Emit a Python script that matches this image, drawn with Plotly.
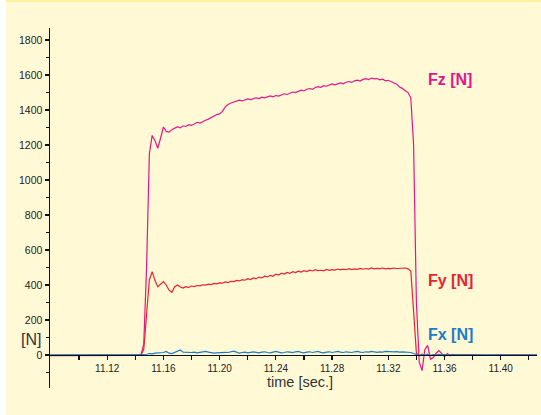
import plotly.graph_objects as go

# ---------------- data ----------------
time_pre = [11.078, 11.090, 11.100, 11.110, 11.120, 11.130]
time_grid = [
    11.140, 11.142, 11.144, 11.146, 11.148, 11.150, 11.152, 11.154, 11.156, 11.158,
    11.160, 11.162, 11.164, 11.166, 11.168, 11.170, 11.172, 11.174, 11.176, 11.178,
    11.180, 11.182, 11.184, 11.186, 11.188, 11.190, 11.192, 11.194, 11.196, 11.198,
    11.200, 11.202, 11.204, 11.206, 11.208, 11.210, 11.212, 11.214, 11.216, 11.218,
    11.220, 11.222, 11.224, 11.226, 11.228, 11.230, 11.232, 11.234, 11.236, 11.238,
    11.240, 11.242, 11.244, 11.246, 11.248, 11.250, 11.252, 11.254, 11.256, 11.258,
    11.260, 11.262, 11.264, 11.266, 11.268, 11.270, 11.272, 11.274, 11.276, 11.278,
    11.280, 11.282, 11.284, 11.286, 11.288, 11.290, 11.292, 11.294, 11.296, 11.298,
    11.300, 11.302, 11.304, 11.306, 11.308, 11.310, 11.312, 11.314, 11.316, 11.318,
    11.320, 11.322, 11.324, 11.326, 11.328, 11.330, 11.332, 11.334, 11.336, 11.338,
    11.340, 11.342, 11.344, 11.346, 11.348, 11.350, 11.352, 11.354, 11.356, 11.358,
    11.360, 11.362, 11.364, 11.366, 11.368, 11.370,
]
time_post = [11.380, 11.390, 11.400, 11.410, 11.426]
time_s = time_pre + time_grid + time_post

fz = [
    -3, -2, -4, -2, -3, -2,
    0, -1, 0, 60, 500, 1150, 1255, 1225, 1182, 1240,
    1303, 1278, 1274, 1288, 1296, 1305, 1298, 1310, 1306, 1316,
    1312, 1322, 1330, 1326, 1336, 1342, 1348, 1358, 1368, 1374,
    1378, 1392, 1418, 1432, 1440, 1446, 1452, 1456, 1452, 1460,
    1464, 1460, 1467, 1470, 1466, 1474, 1470, 1477, 1481, 1476,
    1483, 1480, 1487, 1493, 1489, 1497, 1503, 1500, 1509, 1514,
    1509, 1519, 1523, 1518, 1529, 1534, 1530, 1539, 1536, 1544,
    1549, 1544, 1551, 1555, 1550, 1559, 1563, 1558, 1567, 1571,
    1566, 1575, 1579, 1574, 1583, 1578, 1580, 1573, 1576, 1567,
    1570, 1562, 1556, 1548, 1532, 1524, 1510, 1500, 1470, 1200,
    300, -40, -90, 30, 55, -25, -15, 10, 25, 8,
    -10, 8, -5, 3, 0, -2,
    2, -3, 0, -2, -1,
]
fy = [
    -4, -3, -5, -3, -4, -3,
    -2, -3, 0, 30, 250, 430, 476, 425, 390, 405,
    419, 400, 370, 358, 390, 400, 388, 382, 390, 386,
    394, 391, 397, 395, 401, 399, 405, 402, 409, 406,
    412, 410, 417, 414, 421, 419, 426, 423, 430, 427,
    436, 431, 440, 436, 445, 440, 450, 446, 455, 450,
    462, 457, 468, 462, 472, 466, 476, 471, 479, 474,
    482, 477, 485, 480, 487, 482, 484, 481, 489, 484,
    488, 485, 491, 486, 490, 487, 493, 488, 492, 489,
    495, 490, 494, 491, 497, 492, 495, 493, 497, 492,
    495, 493, 497, 494, 496, 495, 497, 492, 480, 250,
    10, -5, 4, -3, 2, -2, 1, 0, -2, 1,
    0, -1, 1, 0, -1, 0,
    -2, -3, -2, -3, -2,
]
fx = [
    0, 1, 0, 1, 0, 1,
    0, 1, 0, 2, 4, 8, 6, 10, 12, 10,
    14, 20, 10, 8, 14, 22, 28, 16, 14, 12,
    14, 16, 12, 15, 18, 20, 16, 12, 10, 12,
    14, 13, 15, 14, 18, 22, 16, 10, 14, 16,
    12, 14, 18, 15, 12, 16, 18, 14, 12, 16,
    20, 16, 12, 14, 18, 16, 13, 18, 20, 15,
    12, 16, 18, 14, 16, 20, 15, 12, 16, 18,
    14, 17, 20, 16, 14, 18, 16, 14, 18, 20,
    16, 14, 18, 16, 20, 17, 15, 18, 16, 20,
    18, 15, 17, 19, 16, 18, 17, 16, 14, 8,
    2, -4, 3, -2, 4, -3, 2, -2, 3, 0,
    2, -1, 1, 0, 1, 0,
    1, 0, 1, 0, 1,
]

series_names = ["Fz [N]", "Fy [N]", "Fx [N]"]
y_ticks = [0, 200, 400, 600, 800, 1000, 1200, 1400, 1600, 1800]
x_ticks = [11.10, 11.12, 11.14, 11.16, 11.18, 11.20, 11.22, 11.24,
           11.26, 11.28, 11.30, 11.32, 11.34, 11.36, 11.38, 11.40, 11.42]
x_tick_labels = ["", "11.12", "", "11.16", "", "11.20", "", "11.24",
                 "", "11.28", "", "11.32", "", "11.36", "", "11.40", ""]
x_title = "time [sec.]"
y_title = "[N]"

# ---------------- style ----------------
W, H = 541, 415
ML, MR, MT, MB = 50, 4, 28, 27
PW, PH = W - ML - MR, H - MT - MB
YR = [-189, 1869]
XR = [11.0793, 11.4258]
C_FZ, C_FY, C_FX = "#E2168A", "#EA2230", "#1C7CC4"
BG = "#FFF9D6"
FONT = "Liberation Sans, Arial, Helvetica, sans-serif"


def px(x):
    return (x - ML) / PW


def py(y):
    return (H - MB - y) / PH


fig = go.Figure()
for name, vals, col in [(series_names[0], fz, C_FZ), (series_names[1], fy, C_FY),
                        (series_names[2], fx, C_FX)]:
    fig.add_trace(go.Scatter(x=time_s, y=vals, mode="lines", name=name,
                             line=dict(color=col, width=1.2), showlegend=False,
                             hoverinfo="skip"))

fig.update_layout(
    width=W, height=H, autosize=False,
    margin=dict(l=ML, r=MR, t=MT, b=MB, pad=0, autoexpand=False),
    paper_bgcolor=BG, plot_bgcolor=BG,
    font=dict(family=FONT, size=11, color="#222222"),
    showlegend=False,
)
fig.update_yaxes(
    range=YR, tickmode="array", tickvals=y_ticks, ticks="outside", ticklen=4,
    tickwidth=1.2, tickcolor="#111", showline=True, linecolor="#111", linewidth=1.5,
    showgrid=False, zeroline=False, automargin=False,
    tickfont=dict(size=10.5, color="#222"),
    minor=dict(dtick=100, tick0=0, ticks="outside", ticklen=3, tickcolor="#111",
               tickwidth=1.2, showgrid=False),
)
fig.update_xaxes(
    range=XR, anchor="free", position=(0 - YR[0]) / (YR[1] - YR[0]),
    tickmode="array", tickvals=x_ticks, ticktext=x_tick_labels,
    ticks="outside", ticklen=4, tickwidth=1.2, tickcolor="#111",
    showline=True, linecolor="#111", linewidth=1.5, showgrid=False, zeroline=False,
    automargin=False, tickfont=dict(size=10, color="#222"),
)

shapes = [
    dict(type="rect", xref="paper", yref="paper", x0=px(0), x1=px(6), y0=py(H), y1=py(0),
         fillcolor="#FFFFFF", line=dict(width=0), layer="below"),
    dict(type="rect", xref="paper", yref="paper", x0=px(6), x1=px(W), y0=py(2), y1=py(0),
         fillcolor="#FFF0A0", line=dict(width=0), layer="below"),
]
fig.update_layout(shapes=shapes)

ann = [
    dict(text=x_title, x=px(300), y=py(382), font=dict(size=14.5, color="#333")),
    dict(text=y_title, x=px(31), y=py(339), font=dict(size=16, color="#333")),
    dict(text="<b>" + series_names[0] + "</b>", x=px(450), y=py(79), font=dict(size=16, color=C_FZ)),
    dict(text="<b>" + series_names[1] + "</b>", x=px(450), y=py(280), font=dict(size=16, color=C_FY)),
    dict(text="<b>" + series_names[2] + "</b>", x=px(450), y=py(334), font=dict(size=16, color=C_FX)),
]
for a in ann:
    fig.add_annotation(xref="paper", yref="paper", showarrow=False,
                       xanchor="center", yanchor="middle", **a)

fig.write_html("out.html", config={"displayModeBar": False, "staticPlot": True},
               post_script="document.body.style.margin='0';document.body.style.overflow='hidden';")
